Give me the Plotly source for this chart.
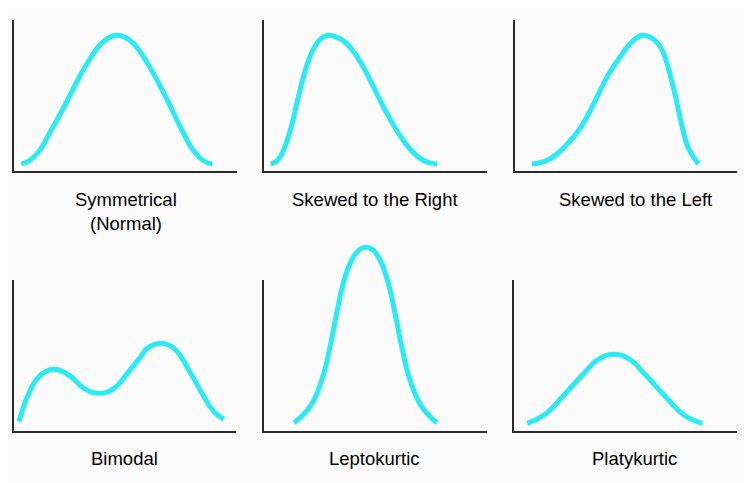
import plotly.graph_objects as go

# Curve control points (x = horizontal position, y = height above baseline)
sym_x = [7.3, 15, 25, 36.7, 50, 61.7, 73.3, 86.7, 95, 103.3, 111.6, 120, 133.3, 145, 156.7, 168.3, 180, 190, 198.3]
sym_y = [7, 10, 19.7, 40, 64, 87, 108, 127, 133.5, 135.7, 133.5, 127, 108, 87, 64, 40, 19.7, 10, 7]

right_x = [6.7, 12, 16.7, 25, 33.3, 40, 48.3, 56, 63.3, 72, 80, 93.3, 106.7, 120, 133.3, 146.7, 160, 173.3]
right_y = [7, 9.5, 15, 36.3, 69.7, 96.3, 119.7, 131.5, 135.7, 134, 129.7, 114, 89.7, 63, 39.7, 21.3, 10.3, 7]

left_x = [16.7, 33.3, 50, 66.7, 80, 93.3, 106.7, 116.7, 126.7, 135, 143.3, 148, 153.3, 160, 166.7, 173.3, 183.3]
left_y = [7, 11.3, 24.5, 45, 70, 96.3, 116.3, 129, 135.7, 134, 127, 119, 103, 76.3, 46.3, 23, 7]

bimodal_x = [5, 13.3, 23.3, 31, 40, 55.5, 70, 85, 100, 113.3, 126.7, 133.3, 146.7, 156.7, 163.3, 176.7, 190, 200, 210]
bimodal_y = [9.3, 34.3, 52.7, 59, 61.7, 55.5, 42.7, 37.7, 42.7, 57.7, 74.3, 82.7, 87.7, 85, 79.3, 57.7, 34.3, 19.3, 11.7]

lepto_x = [30, 46, 57.7, 66, 72.7, 79.3, 87.7, 95, 102, 109, 116, 124.3, 131, 137.7, 146, 157.7, 172.7]
lepto_y = [8.3, 24.3, 51, 84.3, 117.7, 147.7, 171, 181, 183.7, 181, 171, 147.7, 117.7, 84.3, 51, 24.3, 8.3]

platy_x = [13.3, 30, 50, 70, 83.3, 100, 116.7, 130, 150, 170, 188.3]
platy_y = [7.7, 16, 36, 57.7, 71, 76.7, 71, 57.7, 36, 16, 7.7]

titles = [["Symmetrical", "(Normal)"], ["Skewed to the Right"], ["Skewed to the Left"],
          ["Bimodal"], ["Leptokurtic"], ["Platykurtic"]]

curves = [(sym_x, sym_y), (right_x, right_y), (left_x, left_y),
          (bimodal_x, bimodal_y), (lepto_x, lepto_y), (platy_x, platy_y)]

OFF = 8  # default page body margin
W, H = 752 - OFF, 483 - OFF
# panel frames in screen pixels: (left, right, baseline, top of axis line)
frames = [(14, 237, 171, 20), (264, 487, 171, 20), (515, 737, 171, 20),
          (14, 236, 431, 280), (264, 487, 431, 280), (514, 737, 431, 280)]
label_x = [125.5, 375, 635, 124, 374.5, 634.5]
label_y = [[199, 223], [199], [199], [458], [458], [458]]
HEADROOM = [10, 10, 10, 45, 45, 45]  # extra room above the axis line for the curves

CYAN = "#2AEAF3"
AXC = "#2a2a2a"
FONT = "Liberation Sans, Arial, sans-serif"

fig = go.Figure()
layout = dict(width=W, height=H, margin=dict(l=0, r=0, t=0, b=0),
              paper_bgcolor="#fafafa", plot_bgcolor="rgba(0,0,0,0)",
              showlegend=False, annotations=[], shapes=[])

for i, ((cx, cy), (x0, x1, yb, yt)) in enumerate(zip(curves, frames)):
    n = "" if i == 0 else str(i + 1)
    x0, x1, yb, yt = x0 - OFF, x1 - OFF, yb - OFF, yt - OFF
    ytc = max(yt - HEADROOM[i], 0)
    layout["xaxis" + n] = dict(domain=[x0 / W, x1 / W], range=[0, x1 - x0], anchor="y" + n,
                               showline=True, linecolor=AXC, linewidth=2, showgrid=False,
                               zeroline=False, showticklabels=False, ticks="", fixedrange=True)
    layout["yaxis" + n] = dict(domain=[1 - yb / H, 1 - ytc / H], range=[0, yb - ytc], anchor="x" + n,
                               showline=False, showgrid=False, zeroline=False,
                               showticklabels=False, ticks="", fixedrange=True)
    # vertical axis line (shorter than the plotting area, as in the original)
    layout["shapes"].append(dict(type="line", xref="paper", yref="paper",
                                 x0=(x0 - 1) / W, x1=(x0 - 1) / W,
                                 y0=1 - (yb + 2) / H, y1=1 - yt / H,
                                 line=dict(color=AXC, width=2)))
    fig.add_trace(go.Scatter(x=cx, y=cy, mode="lines",
                             line=dict(color=CYAN, width=5, shape="spline", smoothing=1.3),
                             xaxis="x" + n, yaxis="y" + n, hoverinfo="skip"))
    for t, ty in zip(titles[i], label_y[i]):
        layout["annotations"].append(dict(text=t, x=(label_x[i] - OFF) / W, y=1 - (ty - OFF) / H,
                                          xref="paper", yref="paper", showarrow=False,
                                          xanchor="center", yanchor="middle",
                                          font=dict(family=FONT, size=18.5, color="#000")))

fig.update_layout(**layout)
fig.write_html("out.html")
